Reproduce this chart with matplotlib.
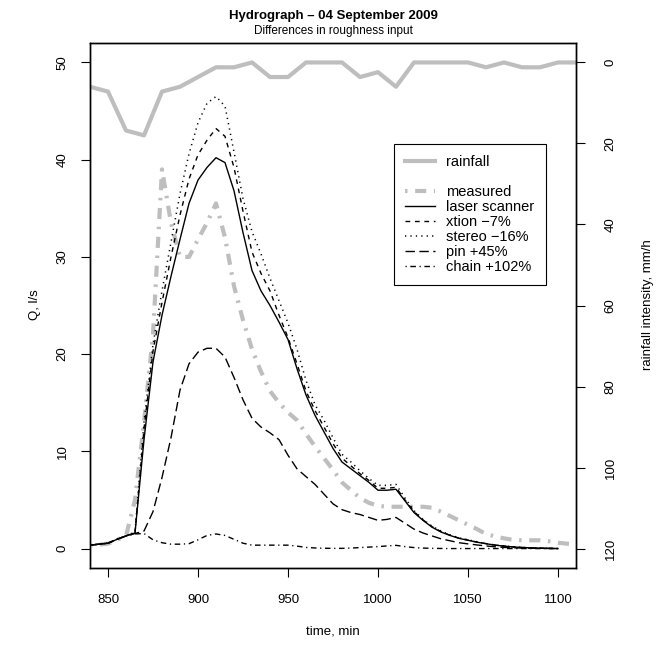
import matplotlib
matplotlib.use("Agg")
import matplotlib.pyplot as plt
from matplotlib.lines import Line2D
import numpy as np

plt.rcParams['font.family'] = ['Liberation Sans', 'DejaVu Sans']
plt.rcParams['lines.scale_dashes'] = False

# ---------------- data ----------------
t = [840, 845, 850, 855, 860, 865, 870, 875, 880, 885, 890, 895, 900, 905, 910,
     915, 920, 925, 930, 935, 940, 945, 950, 955, 960, 965, 970, 975, 980, 985,
     990, 995, 1000, 1005, 1010, 1015, 1020, 1025, 1030, 1035, 1040, 1045, 1050,
     1055, 1060, 1065, 1070, 1075, 1080, 1085, 1090, 1095, 1100]

laser = [0.35, 0.45, 0.55, 0.95, 1.3, 1.6, 11.2, 19.2, 24.0, 28.0, 31.8, 35.5, 37.9,
         39.2, 40.2, 39.7, 36.8, 32.5, 28.6, 26.5, 25.0, 23.3, 21.5, 18.5, 15.8,
         13.7, 12.0, 10.3, 8.9, 8.2, 7.5, 6.8, 6.0, 6.0, 6.1, 4.9, 3.7, 2.9, 2.2,
         1.7, 1.35, 1.05, 0.85, 0.65, 0.5, 0.35, 0.25, 0.17, 0.11, 0.07, 0.04, 0.02, 0.0]

xtion = [0.35, 0.45, 0.55, 0.95, 1.3, 1.65, 12.3, 20.3, 25.3, 30.0, 34.3, 38.0, 40.5,
         42.0, 43.2, 42.4, 39.2, 34.7, 30.5, 28.3, 26.5, 24.0, 21.7, 19.0, 16.2,
         14.2, 12.5, 10.8, 9.3, 8.5, 7.7, 7.0, 6.2, 6.2, 6.3, 5.0, 3.8, 2.95, 2.25,
         1.75, 1.37, 1.07, 0.87, 0.67, 0.51, 0.36, 0.26, 0.17, 0.11, 0.07, 0.04, 0.02, 0.0]

stereo = [0.35, 0.45, 0.55, 0.95, 1.3, 1.7, 13.0, 21.0, 26.5, 31.5, 36.5, 40.6, 43.8,
          45.8, 46.5, 45.5, 40.8, 36.0, 32.6, 30.3, 27.8, 25.5, 23.2, 20.5, 17.3,
          14.8, 13.2, 11.4, 9.7, 8.9, 8.0, 7.2, 6.5, 6.5, 6.6, 5.2, 3.9, 3.0, 2.3,
          1.8, 1.4, 1.1, 0.9, 0.7, 0.5, 0.37, 0.27, 0.18, 0.12, 0.07, 0.04, 0.02, 0.0]

pin = [0.35, 0.45, 0.55, 0.95, 1.3, 1.55, 1.8, 3.8, 7.3, 11.4, 16.3, 19.0, 20.2,
       20.6, 20.6, 19.7, 17.6, 15.3, 13.4, 12.5, 11.9, 11.2, 9.6, 8.2, 7.4, 6.6,
       5.6, 4.6, 4.0, 3.7, 3.5, 3.2, 2.9, 3.0, 3.2, 2.6, 2.0, 1.6, 1.3, 1.0, 0.8,
       0.6, 0.48, 0.37, 0.27, 0.18, 0.12, 0.08, 0.05, 0.03, 0.02, 0.01, 0.0]

chain = [0.35, 0.45, 0.55, 0.95, 1.3, 1.5, 1.55, 0.9, 0.6, 0.45, 0.45, 0.5, 0.9,
         1.35, 1.5, 1.35, 0.95, 0.55, 0.35, 0.35, 0.35, 0.35, 0.35, 0.25, 0.12,
         0.06, 0.03, 0.02, 0.02, 0.05, 0.1, 0.15, 0.2, 0.27, 0.33, 0.2, 0.1, 0.05,
         0.02, 0.01, 0.0, 0.0, 0.0, 0.0, 0.0, 0.0, 0.0, 0.0, 0.0, 0.0, 0.0, 0.0, 0.0]

t_meas = t + [1105, 1110]
measured = [0.3, 0.4, 0.5, 0.9, 1.3, 5.0, 13.0, 22.0, 39.0, 33.5, 30.0, 30.0, 31.8,
            33.5, 35.5, 32.0, 27.0, 23.5, 20.5, 18.2, 16.2, 15.0, 14.0, 13.2, 11.8,
            10.5, 9.3, 8.1, 6.8, 6.0, 5.2, 4.7, 4.4, 4.3, 4.3, 4.3, 4.3, 4.3, 4.2,
            3.8, 3.35, 2.9, 2.45, 2.0, 1.5, 1.25, 1.05, 0.9, 0.85, 0.85, 0.85, 0.75,
            0.6, 0.5, 0.45]

t_rain = [840, 850, 860, 870, 880, 890, 900, 910, 920, 930, 940, 950, 960, 970,
          980, 990, 1000, 1010, 1020, 1030, 1040, 1050, 1060, 1070, 1080, 1090,
          1100, 1110]
rain = [6.0, 7.2, 16.8, 18.0, 7.2, 6.0, 3.6, 1.2, 1.2, 0.0, 3.6, 3.6, 0.0, 0.0,
        0.0, 3.6, 2.4, 6.0, 0.0, 0.0, 0.0, 0.0, 1.2, 0.0, 1.2, 1.2, 0.0, 0.0]

xticks = [850, 900, 950, 1000, 1050, 1100]
qticks = [0, 10, 20, 30, 40, 50]
rticks = [0, 20, 40, 60, 80, 100, 120]

labels = ["rainfall", "", "measured", "laser scanner", "xtion \u22127%",
          "stereo \u221216%", "pin +45%", "chain +102%"]

# ---------------- figure ----------------
W, H = 663, 646
fig = plt.figure(figsize=(W / 100, H / 100), dpi=100)
L, R, T, B = 90, 576, 43, 568
ax = fig.add_axes([L / W, 1 - B / H, (R - L) / W, (B - T) / H])
ax2 = ax.twinx()

GREY = "#bebebe"
st_meas = dict(color=GREY, lw=3.0, dashes=(1.8, 5.5, 8.0, 5.5), dash_capstyle='butt')
st_laser = dict(color="black", lw=1.0)
st_xtion = dict(color="black", lw=1.0, dashes=(3.4, 3.4), dash_capstyle='butt')
st_stereo = dict(color="black", lw=1.1, dashes=(0.9, 3.0), dash_capstyle='butt')
st_pin = dict(color="black", lw=1.0, dashes=(6.8, 3.2), dash_capstyle='butt')
st_chain = dict(color="black", lw=1.0, dashes=(0.9, 2.6, 4.0, 2.6), dash_capstyle='butt')
st_rain = dict(color=GREY, lw=3.0, solid_joinstyle='round')

ax.plot(t_meas, measured, **st_meas)
ax.plot(t, laser, **st_laser)
ax.plot(t, xtion, **st_xtion)
ax.plot(t, stereo, **st_stereo)
ax.plot(t, pin, **st_pin)
ax.plot(t, chain, **st_chain)

ax2.plot(t_rain, rain, **st_rain)

ax.set_xlim(840, 1110)
ax.set_ylim(-2, 52)
ax2.set_ylim(124.8, -4.8)

ax.set_xticks(xticks)
ax.set_yticks(qticks)
ax2.set_yticks(rticks)

for a in (ax, ax2):
    for s in a.spines.values():
        s.set_linewidth(1.0)
    a.tick_params(direction='out', length=6.5, width=0.8, labelsize=9.5, pad=9)
ax.tick_params(axis='x', pad=12)
ax.tick_params(axis='y', labelrotation=90)
ax2.tick_params(axis='y', labelrotation=90, pad=14)
for lab in ax.get_yticklabels() + ax2.get_yticklabels():
    lab.set_va('center')

ax.set_zorder(ax2.get_zorder() + 1)
ax.patch.set_visible(False)

# legend
handles = [Line2D([], [], **st_rain), Line2D([], [], lw=0),
           Line2D([], [], **st_meas), Line2D([], [], **st_laser),
           Line2D([], [], **st_xtion), Line2D([], [], **st_stereo),
           Line2D([], [], **st_pin), Line2D([], [], **st_chain)]
lx0, ly0 = 394, 144
leg = ax.legend(handles, labels, loc='upper left',
                bbox_to_anchor=((lx0 - L) / (R - L), (B - ly0) / (B - T)),
                borderaxespad=0, fancybox=False, framealpha=1, edgecolor='black',
                fontsize=10.5, handlelength=2.05, handletextpad=0.8,
                labelspacing=0.07, borderpad=0.75)
leg.get_frame().set_linewidth(0.8)

# labels
fig.text(333 / W, 1 - 16 / H, "Hydrograph \u2013 04 September 2009", ha='center', va='center',
         fontsize=9.5, fontweight='bold')
fig.text(333 / W, 1 - 31 / H, "Differences in roughness input", ha='center', va='center',
         fontsize=8.5)
fig.text(333 / W, 1 - 631 / H, "time, min", ha='center', va='center', fontsize=9.5)
fig.text(35 / W, 1 - 305 / H, "Q, l/s", ha='center', va='center', rotation=90, fontsize=9.5)
fig.text(648 / W, 1 - 305 / H, "rainfall intensity, mm/h", ha='center', va='center',
         rotation=90, fontsize=9.5)

fig.savefig("out.png", dpi=100)
